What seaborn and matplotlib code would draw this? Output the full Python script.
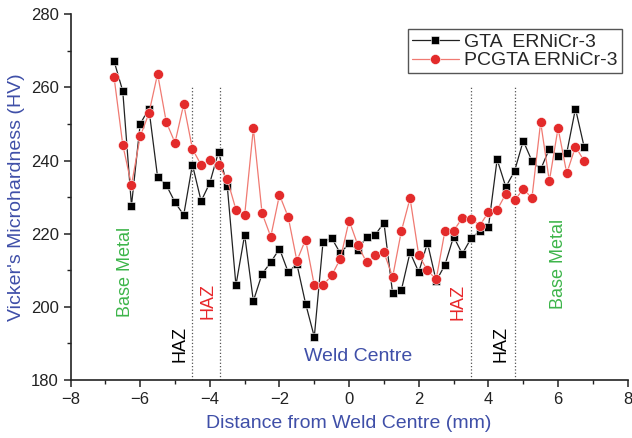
import numpy as np
import pandas as pd
import matplotlib
matplotlib.use("Agg")
import matplotlib.pyplot as plt
from matplotlib.ticker import MultipleLocator
import seaborn as sns

# ---- data ----
distance = [-6.75, -6.5, -6.25, -6.0, -5.75, -5.5, -5.25, -5.0, -4.75, -4.5,
            -4.25, -4.0, -3.75, -3.5, -3.25, -3.0, -2.75, -2.5, -2.25, -2.0,
            -1.75, -1.5, -1.25, -1.0, -0.75, -0.5, -0.25, 0.0, 0.25, 0.5,
            0.75, 1.0, 1.25, 1.5, 1.75, 2.0, 2.25, 2.5, 2.75, 3.0,
            3.25, 3.5, 3.75, 4.0, 4.25, 4.5, 4.75, 5.0, 5.25, 5.5,
            5.75, 6.0, 6.25, 6.5, 6.75]

gta = [267.2, 259.0, 227.7, 250.0, 254.2, 235.5, 233.3, 228.6, 225.1, 238.9,
       228.9, 233.9, 242.4, 233.1, 205.9, 219.7, 201.6, 209.0, 212.2, 215.9,
       209.5, 211.7, 200.9, 191.8, 217.7, 218.8, 214.6, 217.4, 215.5, 219.2,
       219.7, 223.0, 203.7, 204.6, 214.9, 209.5, 217.5, 207.1, 211.4, 219.2,
       214.5, 218.7, 220.7, 221.8, 240.3, 232.8, 237.1, 245.4, 239.9, 237.6,
       243.2, 241.3, 242.1, 254.2, 243.7]

pcgta = [262.8, 244.3, 233.3, 246.6, 252.9, 263.7, 250.5, 244.9, 255.4, 243.2,
         238.8, 240.1, 238.7, 234.9, 226.6, 225.0, 248.8, 225.6, 219.2, 230.6,
         224.6, 212.6, 218.4, 205.9, 205.9, 208.6, 213.2, 223.6, 216.9, 212.2,
         214.1, 214.9, 208.2, 220.7, 229.7, 214.1, 210.0, 207.5, 220.7, 220.8,
         224.3, 224.1, 222.2, 225.9, 226.5, 230.9, 229.1, 232.2, 229.8, 250.5,
         234.4, 248.9, 236.5, 243.8, 239.9]

series_names = ["GTA  ERNiCr-3", "PCGTA ERNiCr-3"]
zone_lines = [-4.5, -3.7, 3.5, 4.75]

annotations = [
    # text, x, y, colour, rotation, size
    ("Base Metal", -6.43, 209.5, "#3db54a", 90, 13),
    ("HAZ", -4.86, 189.8, "black", 90, 13),
    ("HAZ", -4.04, 201.7, "#e8262a", 90, 13),
    ("Weld Centre", 0.25, 186.3, "#3f4fa8", 0, 14),
    ("HAZ", 3.13, 201.4, "#e8262a", 90, 13),
    ("HAZ", 4.36, 189.8, "black", 90, 13),
    ("Base Metal", 6.0, 211.7, "#3db54a", 90, 13),
]

# ---- plot ----
sns.set_style("ticks")
plt.rcParams["font.family"] = ["Liberation Sans", "DejaVu Sans"]

df = pd.DataFrame({"x": distance * 2,
                   "y": gta + pcgta,
                   "series": [series_names[0]] * len(gta) + [series_names[1]] * len(pcgta)})

fig = plt.figure(figsize=(6.32, 4.38), dpi=100)
ax = fig.add_axes([0.1116, 0.1324, 0.8816, 0.835])

sns.lineplot(data=df[df.series == series_names[0]], x="x", y="y", ax=ax,
             color="#222222", lw=0.9, marker="s", markersize=6.0,
             markerfacecolor="black", markeredgecolor="white", markeredgewidth=0.4,
             label=series_names[0], sort=False, estimator=None, zorder=3)
sns.lineplot(data=df[df.series == series_names[1]], x="x", y="y", ax=ax,
             color="#f07a72", lw=0.9, marker="o", markersize=7.2,
             markerfacecolor="#e32b2b", markeredgecolor="white", markeredgewidth=0.4,
             label=series_names[1], sort=False, estimator=None, zorder=4)

ax.vlines(zone_lines, 180, 260.5, colors="#555555", linestyles=":", linewidth=0.9, zorder=1)

for txt, x, y, c, rot, fs in annotations:
    ax.text(x, y, txt, color=c, rotation=rot, fontsize=fs, ha="center", va="center")

ax.set_xlim(-8, 8)
ax.set_ylim(180, 280)
ax.xaxis.set_major_locator(MultipleLocator(2))
ax.xaxis.set_minor_locator(MultipleLocator(1))
ax.yaxis.set_major_locator(MultipleLocator(20))
ax.yaxis.set_minor_locator(MultipleLocator(10))
ax.tick_params(which="major", length=5, width=1.1, labelsize=12, colors="#222222")
ax.tick_params(which="minor", length=3, width=1.0, colors="#222222")
for s in ["top", "right"]:
    ax.spines[s].set_visible(False)
for s in ["left", "bottom"]:
    ax.spines[s].set_linewidth(1.2)
    ax.spines[s].set_color("#222222")

ax.set_xlabel("Distance from Weld Centre (mm)", fontsize=14, color="#3f4fa8", labelpad=6)
ax.set_ylabel("Vicker's Microhardness (HV)", fontsize=14, color="#3f4fa8", labelpad=4)

leg = ax.legend(loc="upper right", bbox_to_anchor=(0.984, 0.933),
                bbox_transform=fig.transFigure, fontsize=14, frameon=True,
                fancybox=False, handlelength=2.4, handletextpad=0.3,
                labelspacing=0.05, borderpad=0.2, borderaxespad=0)
leg.get_frame().set_edgecolor("#555555")
leg.get_frame().set_linewidth(1.0)
leg.get_frame().set_alpha(1)

fig.savefig("out.png", dpi=100)
